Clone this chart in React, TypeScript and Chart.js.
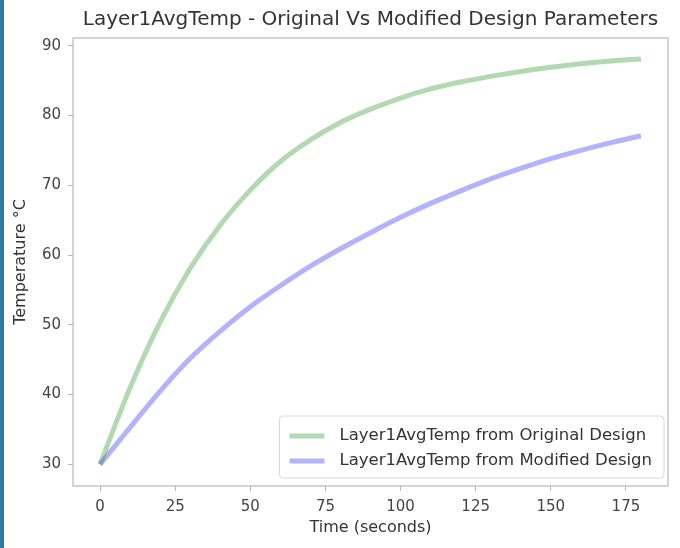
import React, { useEffect, useRef } from "react";
import { Chart, registerables } from "chart.js";

Chart.register(...registerables);

const TITLE = "Layer1AvgTemp - Original Vs Modified Design Parameters";
const X_TITLE = "Time (seconds)";
const Y_TITLE = "Temperature °C";
const LABEL_ORIGINAL = "Layer1AvgTemp from Original Design";
const LABEL_MODIFIED = "Layer1AvgTemp from Modified Design";

const times = [0, 10, 20, 30, 40, 50, 60, 70, 80, 90, 100, 110, 120, 130, 140, 150, 160, 170, 180];
const originalTemps = [30, 41.0, 50.4, 58.1, 64.3, 69.3, 73.4, 76.5, 79.0, 80.9, 82.5, 83.8, 84.8, 85.6, 86.3, 86.9, 87.4, 87.8, 88.1];
const modifiedTemps = [30, 35.3, 40.5, 45.2, 49.1, 52.6, 55.6, 58.4, 60.9, 63.2, 65.4, 67.4, 69.2, 70.9, 72.4, 73.8, 75.0, 76.1, 77.1];
const xTicks = [0, 25, 50, 75, 100, 125, 150, 175];
const yTicks = [30, 40, 50, 60, 70, 80, 90];

const GREEN = "rgba(0,128,0,0.3)";
const BLUE = "rgba(0,0,255,0.3)";
const FONT = "'DejaVu Sans', sans-serif";

const framePlugin = {
  id: "frame",
  afterDraw(chart: any) {
    const { ctx, chartArea: a } = chart;
    ctx.save();
    ctx.strokeStyle = "#b8b8b8";
    ctx.lineWidth = 1.2;
    ctx.strokeRect(a.left, a.top, a.right - a.left, a.bottom - a.top);
    // legend
    const items = [
      { label: LABEL_ORIGINAL, color: GREEN },
      { label: LABEL_MODIFIED, color: BLUE },
    ];
    ctx.font = `16.5px ${FONT}`;
    const textW = Math.max(...items.map((i) => ctx.measureText(i.label).width));
    const boxW = 10 + 35 + 15 + textW + 12;
    const boxH = 62;
    const bx = a.right - 4 - boxW;
    const by = a.bottom - 8 - boxH;
    ctx.fillStyle = "rgba(255,255,255,0.8)";
    ctx.strokeStyle = "#d8d8d8";
    ctx.lineWidth = 1;
    ctx.beginPath();
    (ctx as any).roundRect(bx, by, boxW, boxH, 4);
    ctx.fill();
    ctx.stroke();
    items.forEach((it, i) => {
      const cy = by + 20 + i * 25;
      ctx.strokeStyle = it.color;
      ctx.lineWidth = 5;
      ctx.beginPath();
      ctx.moveTo(bx + 10, cy);
      ctx.lineTo(bx + 45, cy);
      ctx.stroke();
      ctx.fillStyle = "#333";
      ctx.textBaseline = "middle";
      ctx.textAlign = "left";
      ctx.fillText(it.label, bx + 60, cy);
    });
    ctx.restore();
  },
};

export default function App() {
  const ref = useRef<HTMLCanvasElement>(null);
  useEffect(() => {
    document.body.style.margin = "0";
    const chart = new Chart(ref.current!, {
      type: "line",
      data: {
        datasets: [
          {
            label: LABEL_ORIGINAL,
            data: times.map((t, i) => ({ x: t, y: originalTemps[i] })),
            borderColor: GREEN,
            borderWidth: 5,
            pointRadius: 0,
            cubicInterpolationMode: "monotone",
            fill: false,
          },
          {
            label: LABEL_MODIFIED,
            data: times.map((t, i) => ({ x: t, y: modifiedTemps[i] })),
            borderColor: BLUE,
            borderWidth: 5,
            pointRadius: 0,
            cubicInterpolationMode: "monotone",
            fill: false,
          },
        ],
      },
      options: {
        animation: false,
        responsive: false,
        maintainAspectRatio: false,
        layout: { padding: { left: 0, right: 12, top: 0, bottom: 0 } },
        plugins: {
          legend: { display: false },
          tooltip: { enabled: false },
          title: {
            display: true,
            fullSize: false,
            text: TITLE,
            color: "#333",
            font: { family: FONT, size: 20, weight: "normal" },
            padding: { top: 8, bottom: 6 },
          },
        },
        scales: {
          x: {
            type: "linear",
            min: -9,
            max: 189,
            afterBuildTicks: (s: any) => {
              s.ticks = xTicks.map((v) => ({ value: v }));
            },
            afterFit: (s: any) => {
              s.height = 62;
            },
            border: { display: false },
            grid: { drawOnChartArea: false, drawTicks: true, tickLength: 5, color: "#b8b8b8" },
            ticks: { color: "#444", font: { family: FONT, size: 15 }, padding: 7, maxRotation: 0 },
            title: { display: true, text: X_TITLE, color: "#333", font: { family: FONT, size: 16 }, padding: { top: 0, bottom: 11 } },
          },
          y: {
            type: "linear",
            min: 26.9,
            max: 91.1,
            afterBuildTicks: (s: any) => {
              s.ticks = yTicks.map((v) => ({ value: v }));
            },
            afterFit: (s: any) => {
              s.width = 73;
            },
            border: { display: false },
            grid: { drawOnChartArea: false, drawTicks: true, tickLength: 5, color: "#b8b8b8" },
            ticks: { color: "#444", font: { family: FONT, size: 15 }, padding: 7 },
            title: { display: true, text: Y_TITLE, color: "#333", font: { family: FONT, size: 16 }, padding: { top: 11, bottom: 0 } },
          },
        },
      },
      plugins: [framePlugin],
    });
    return () => chart.destroy();
  }, []);
  return (
    <div style={{ position: "relative", width: 680, height: 548, background: "#fff" }}>
      <canvas ref={ref} width={680} height={548} style={{ display: "block" }} />
      <div style={{ position: "absolute", left: 0, top: 0, width: 4, height: 548, background: "#2f7ba3" }} />
    </div>
  );
}
